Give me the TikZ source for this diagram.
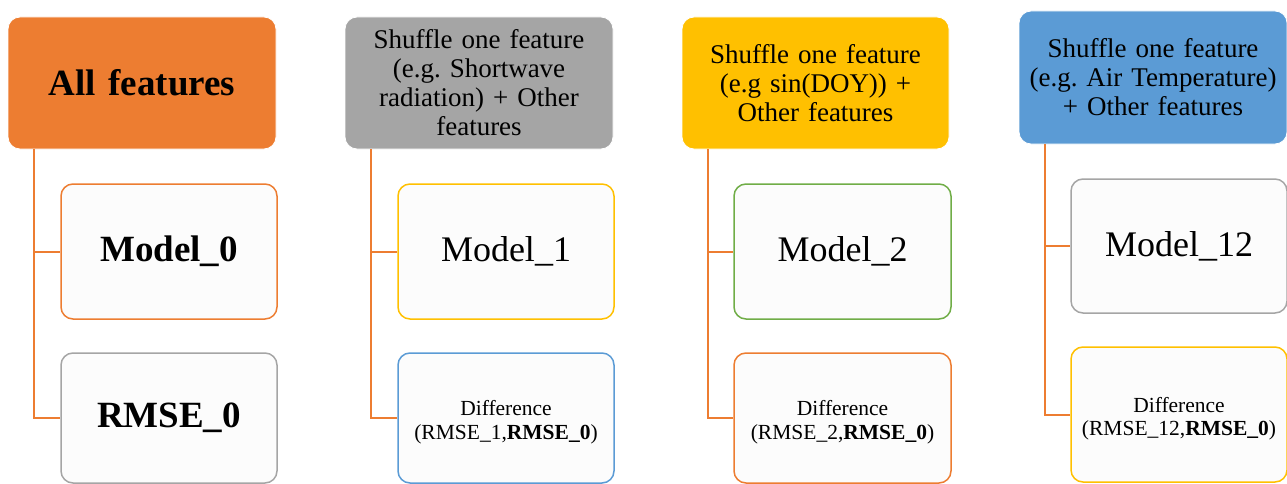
\documentclass[tikz,border=0pt]{standalone}
\usepackage{fontspec}
\setmainfont{LiberationSerif}[Extension=.ttf, UprightFont=*-Regular, BoldFont=*-Bold, ItalicFont=*-Italic, BoldItalicFont=*-BoldItalic]
\frenchspacing
\definecolor{cOrange}{HTML}{ED7D31}
\definecolor{cGray}{HTML}{A5A5A5}
\definecolor{cYellow}{HTML}{FFC000}
\definecolor{cBlue}{HTML}{5B9BD5}
\definecolor{cGreen}{HTML}{70AD47}
\definecolor{cPale}{HTML}{FCFCFC}
\newcommand{\difftop}{\rule{0pt}{24pt}}
\tikzset{
  topbox/.style={rectangle, rounded corners=12pt, draw=white, line width=0.8pt, fill=#1,
    minimum width=268pt, minimum height=132pt, align=center, inner sep=4pt,
    text width=250pt, font=\fontsize{27}{29}\selectfont\frenchspacing},
  childbox/.style={rectangle, rounded corners=12pt, draw=#1, line width=1.5pt, fill=cPale,
    minimum width=216pt, minimum height=135pt, align=center, inner sep=2pt},
  bigtxt/.style={font=\fontsize{36}{40}\selectfont},
  boldtxt/.style={font=\fontsize{37}{40}\selectfont\bfseries},
  smalltxt/.style={font=\fontsize{21.5}{23.5}\selectfont},
  conn/.style={draw=cOrange, line width=2pt}
}
\begin{document}
\begin{tikzpicture}[x=1pt,y=-1pt]
\useasboundingbox (0,0) rectangle (1287,484);
\clip (0,0) rectangle (1287,484);
% column 1
\node[topbox=cOrange, boldtxt] (t1) at (142,83) {All features};
\node[childbox=cOrange, boldtxt] (m1) at (169,251.5) {Model\_0};
\node[childbox=cGray, boldtxt, minimum height=130pt] (r1) at (169,418) {RMSE\_0};
\draw[conn] (t1.south west) ++(26,0) coordinate (c1) |- (m1.west);
\draw[conn] (c1) |- (r1.west);
% column 2
\node[topbox=cGray] (t2) at (479,83) {Shuffle one feature\\(e.g. Shortwave\\radiation) + Other\\features};
\node[childbox=cYellow, bigtxt] (m2) at (506,251.5) {Model\_1};
\node[childbox=cBlue, smalltxt, minimum height=130pt] (d2) at (506,418) {\difftop Difference\\(RMSE\_1,\textbf{RMSE\_0})};
\draw[conn] (t2.south west) ++(26,0) coordinate (c2) |- (m2.west);
\draw[conn] (c2) |- (d2.west);
% column 3
\node[topbox=cYellow, minimum width=267pt] (t3) at (815.5,83) {Shuffle one feature\\(e.g sin(DOY)) +\\Other features};
\node[childbox=cGreen, bigtxt, minimum width=217pt] (m3) at (842.5,251.5) {Model\_2};
\node[childbox=cOrange, smalltxt, minimum width=217pt, minimum height=130pt] (d3) at (842.5,418) {\difftop Difference\\(RMSE\_2,\textbf{RMSE\_0})};
\draw[conn] (t3.south west) ++(26,0) coordinate (c3) |- (m3.west);
\draw[conn] (c3) |- (d3.west);
% column 4
\node[topbox=cBlue, minimum height=133pt] (t4) at (1153,77.5) {Shuffle one feature\\(e.g. Air Temperature)\\+ Other features};
\node[childbox=cGray, bigtxt, minimum height=134pt] (m4) at (1179,246) {Model\_12};
\node[childbox=cYellow, smalltxt] (d4) at (1179,414.5) {\difftop Difference\\(RMSE\_12,\textbf{RMSE\_0})};
\draw[conn] (t4.south west) ++(26,0) coordinate (c4) |- (m4.west);
\draw[conn] (c4) |- (d4.west);
\end{tikzpicture}
\end{document}
